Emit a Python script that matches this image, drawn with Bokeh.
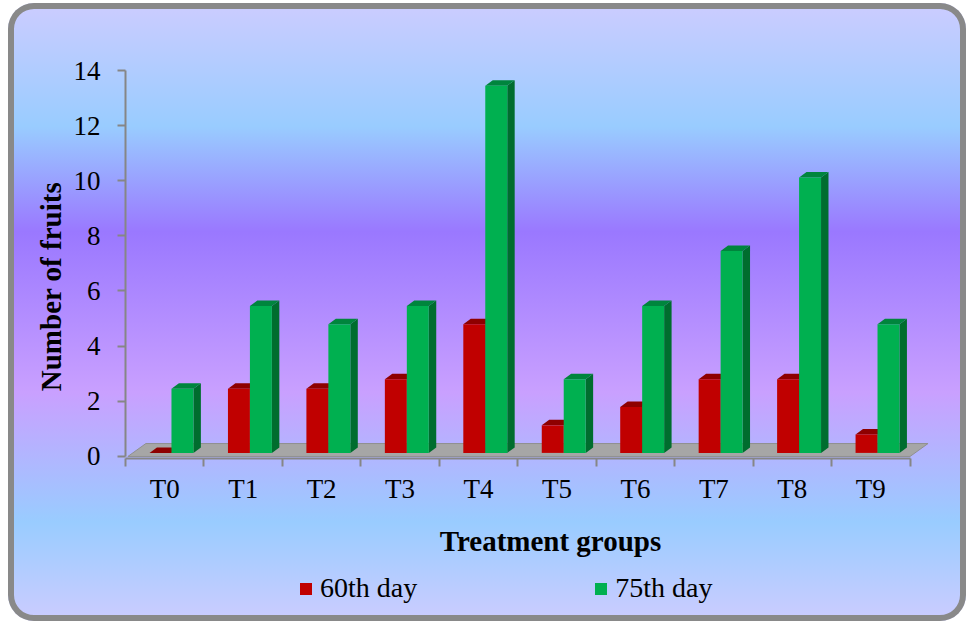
import math
from bokeh.plotting import figure
from bokeh.models import Range1d, FixedTicker, Label, Legend, LegendItem
from bokeh.embed import file_html
from bokeh.resources import INLINE

# ---------------- data ----------------
categories = ["T0", "T1", "T2", "T3", "T4", "T5", "T6", "T7", "T8", "T9"]
day60 = [0.0, 2.33, 2.33, 2.67, 4.67, 1.0, 1.67, 2.67, 2.67, 0.67]
day75 = [2.33, 5.33, 4.67, 5.33, 13.33, 2.67, 5.33, 7.33, 10.0, 4.67]
series_names = ["60th day", "75th day"]
y_ticks = [0, 2, 4, 6, 8, 10, 12, 14]
x_title = "Treatment groups"
y_title = "Number of fruits"

# ---------------- layout / style ----------------
W, H = 958, 618            # chart box (placed at page offset 8, 3)
X0_PX, XSCALE = 117, 78.45  # screen x of data x=0, px per category
Y0_PX, YSCALE = 452.7, 27.55  # screen y (from top) of data y=0, px per unit

FONT = "Liberation Serif"
AXIS_GRAY = "#868686"
BAR_W = 0.28
FIRST_OFF = 0.306
DX, DY = 0.095, 0.2
LIFT = 0.12
FLOOR_DX, FLOOR_DY = 0.23, 0.47
FLOOR_Y0 = -0.01
AXIS_Y = -0.07

front_cols = ["#C00000", "#00B050"]
top_cols = ["#8E0000", "#00853D"]
side_cols = ["#760000", "#006D2E"]

n = len(categories)

p = figure(width=W, height=H, output_backend="svg", toolbar_location=None,
           title=None,
           x_range=Range1d(-X0_PX / XSCALE, (W - X0_PX) / XSCALE),
           y_range=Range1d(-(H - Y0_PX) / YSCALE, Y0_PX / YSCALE),
           min_border_left=0, min_border_right=0, min_border_top=0,
           min_border_bottom=0)
p.background_fill_color = None
p.border_fill_color = None
p.outline_line_color = None
p.grid.visible = False
p.styles = {
    "margin-left": "8px",
    "margin-top": "3px",
    "background-image": "linear-gradient(to bottom, #CCCCFF 0%, #99CCFF 20%, "
                        "#9A78FF 37%, #C9A0FF 63%, #99CCFF 84%, #CCCCFF 100%)",
    "border-radius": "26px",
    "box-shadow": "inset 0 0 0 6px #898989",
}

# floor
p.patch([0.03, 10.0, 10.0 + FLOOR_DX, 0.03 + FLOOR_DX],
        [FLOOR_Y0, FLOOR_Y0, FLOOR_Y0 + FLOOR_DY, FLOOR_Y0 + FLOOR_DY],
        fill_color="#A6A6A6", line_color="#909090", line_width=1)

renderers = []
for s, vals in enumerate([day60, day75]):
    lefts = [i + FIRST_OFF + s * BAR_W for i in range(n)]
    rights = [l + BAR_W for l in lefts]
    bottoms = [LIFT] * n
    tops = [v + LIFT for v in vals]
    side_xs = [[r, r + DX, r + DX, r] for r in rights]
    side_ys = [[b, b + DY, t + DY, t] for b, t in zip(bottoms, tops)]
    p.patches(side_xs, side_ys, fill_color=side_cols[s], line_color=None)
    top_xs = [[l, r, r + DX, l + DX] for l, r in zip(lefts, rights)]
    top_ys = [[t, t, t + DY, t + DY] for t in tops]
    p.patches(top_xs, top_ys, fill_color=top_cols[s], line_color=None)
    r = p.quad(left=lefts, right=rights, bottom=bottoms, top=tops,
               fill_color=front_cols[s], line_color=None)
    renderers.append(r)

# axes (drawn at fixed data locations inside the chart box)
xa = p.xaxis[0]
xa.fixed_location = AXIS_Y
xa.ticker = FixedTicker(ticks=[i + 0.5 for i in range(n)],
                        minor_ticks=list(range(n + 1)))
xa.major_label_overrides = {i + 0.5: c for i, c in enumerate(categories)}
xa.bounds = (0, n)
xa.major_tick_line_color = None
xa.major_tick_out = 8
xa.major_tick_in = 0
xa.minor_tick_out = 8
xa.minor_tick_in = 0
xa.minor_tick_line_color = AXIS_GRAY
xa.minor_tick_line_width = 2
xa.major_label_standoff = 8

ya = p.yaxis[0]
ya.fixed_location = 0
ya.ticker = FixedTicker(ticks=y_ticks)
ya.bounds = (0, 14)
ya.major_tick_out = 8
ya.major_tick_in = 0
ya.minor_tick_line_color = None
ya.major_tick_line_color = AXIS_GRAY
ya.major_tick_line_width = 2
ya.major_label_standoff = 17

for ax in (xa, ya):
    ax.axis_line_color = AXIS_GRAY
    ax.axis_line_width = 2
    ax.major_label_text_font = FONT
    ax.major_label_text_font_size = "27px"
    ax.major_label_text_color = "black"

# axis titles
p.add_layout(Label(x=542, y=H - 537, x_units="screen", y_units="screen",
                   text=x_title, text_align="center", text_baseline="middle",
                   text_font=FONT, text_font_size="29px",
                   text_font_style="bold", text_color="black"))
p.add_layout(Label(x=42, y=H - 283, x_units="screen", y_units="screen",
                   text=y_title, angle=math.pi / 2, text_align="center",
                   text_baseline="middle", text_font=FONT,
                   text_font_size="29px", text_font_style="bold",
                   text_color="black"))

legend = Legend(items=[LegendItem(label=series_names[k], renderers=[renderers[k]])
                       for k in range(2)],
                orientation="horizontal", location=(290, 17),
                glyph_width=15, glyph_height=15, label_standoff=7, spacing=176,
                padding=0, margin=0, border_line_color=None,
                background_fill_color=None, label_text_font=FONT,
                label_text_font_size="28px", label_text_color="black")
p.add_layout(legend, "center")

open("out.html", "w").write(file_html(p, INLINE))
